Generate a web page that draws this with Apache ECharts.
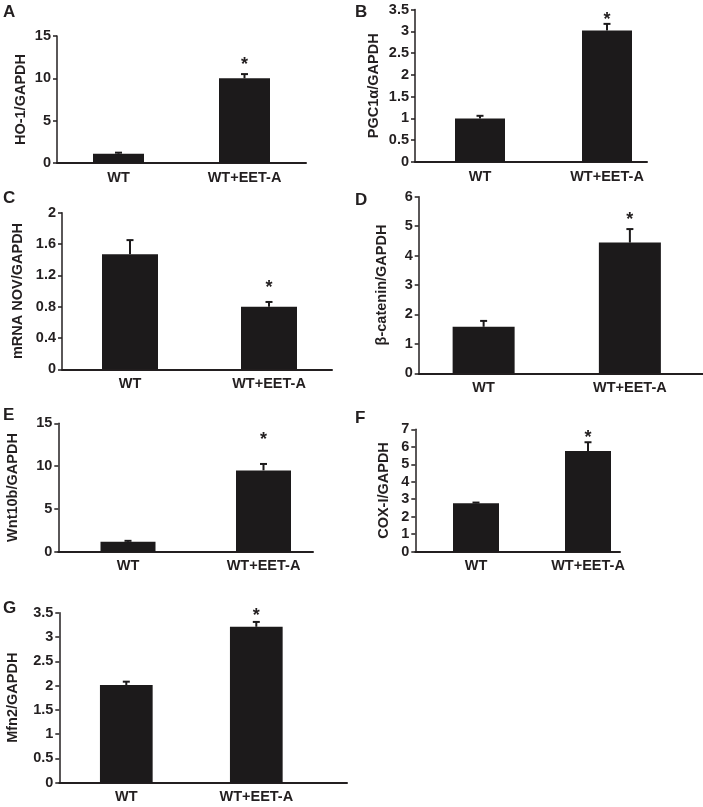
<!DOCTYPE html>
<html>
<head>
<meta charset="utf-8">
<script src="https://cdn.jsdelivr.net/npm/echarts@6/dist/echarts.min.js"></script>
<style>
html,body{margin:0;padding:0;background:#fff;}
#chart{width:703px;height:807px;}
</style>
</head>
<body>
<div id="chart"></div>
<script>
// ---------- data ----------
const categories = ['WT', 'WT+EET-A'];
const significant = [0, 1];

const hoMean = [1.1, 10.0];
const hoErr = [0.12, 0.5];
const hoTicks = [0, 5, 10, 15];

const pgcMean = [1.0, 3.02];
const pgcErr = [0.06, 0.15];
const pgcTicks = [0, 0.5, 1, 1.5, 2, 2.5, 3, 3.5];

const novMean = [1.47, 0.80];
const novErr = [0.18, 0.06];
const novTicks = [0, 0.4, 0.8, 1.2, 1.6, 2];

const catMean = [1.58, 4.44];
const catErr = [0.2, 0.46];
const catTicks = [0, 1, 2, 3, 4, 5, 6];

const wntMean = [1.15, 9.5];
const wntErr = [0.12, 0.75];
const wntTicks = [0, 5, 10, 15];

const coxMean = [2.77, 5.76];
const coxErr = [0.04, 0.5];
const coxTicks = [0, 1, 2, 3, 4, 5, 6, 7];

const mfnMean = [2.01, 3.21];
const mfnErr = [0.07, 0.1];
const mfnTicks = [0, 0.5, 1, 1.5, 2, 2.5, 3, 3.5];

// ---------- panels (data + layout) ----------
const panels = [
  {letter: 'A', name: 'HO-1/GAPDH', mean: hoMean, err: hoErr, ticks: hoTicks,
   L: {ax: 57, top: 36, zero: 163, xEnd: 306, c1: 118.5, c2: 244.5, barW: 51, nameGap: 29, star: 13, lx: 3, ly: 4}},
  {letter: 'B', name: 'PGC1α/GAPDH', mean: pgcMean, err: pgcErr, ticks: pgcTicks,
   L: {ax: 415, top: 9.5, zero: 162, xEnd: 647, c1: 480, c2: 607, barW: 50, nameGap: 34, star: 8, lx: 355, ly: 4}},
  {letter: 'C', name: 'mRNA NOV/GAPDH', mean: novMean, err: novErr, ticks: novTicks,
   L: {ax: 62, top: 212.7, zero: 369.3, xEnd: 332, c1: 130, c2: 269, barW: 56, nameGap: 37, star: 18, lx: 3, ly: 190}},
  {letter: 'D', name: 'β-catenin/GAPDH', mean: catMean, err: catErr, ticks: catTicks,
   L: {ax: 418.7, top: 196.7, zero: 373.3, xEnd: 703, c1: 492.5, c2: 656.5, barW: 62, nameGap: 29, star: 13, lx: 355, ly: 192}},
  {letter: 'E', name: 'Wnt10b/GAPDH', mean: wntMean, err: wntErr, ticks: wntTicks,
   L: {ax: 58.3, top: 423.3, zero: 551.7, xEnd: 313, c1: 128, c2: 263.5, barW: 55, nameGap: 38, star: 28, lx: 3, ly: 407}},
  {letter: 'F', name: 'COX-I/GAPDH', mean: coxMean, err: coxErr, ticks: coxTicks,
   L: {ax: 415.3, top: 429.3, zero: 551.7, xEnd: 620, c1: 476, c2: 588, barW: 46, nameGap: 24, star: 8, lx: 355, ly: 410}},
  {letter: 'G', name: 'Mfn2/GAPDH', mean: mfnMean, err: mfnErr, ticks: mfnTicks,
   L: {ax: 59.3, top: 612.7, zero: 782.7, xEnd: 347, c1: 126.3, c2: 256.3, barW: 52.7, nameGap: 39, star: 10, lx: 3, ly: 600}}
];

const FONT = '"Liberation Sans", Arial, sans-serif';
const TXT = '#231f20';
const BAR = '#1c1a1b';
const FS = 14.5;

const option = {
  backgroundColor: '#ffffff',
  animation: false,
  title: [], grid: [], xAxis: [], yAxis: [], series: []
};

panels.forEach((p, k) => {
  const L = p.L;
  const s = L.c2 - L.c1;
  const ymin = p.ticks[0], ymax = p.ticks[p.ticks.length - 1], step = p.ticks[1] - p.ticks[0];
  const frameIdx = 2 * k, dataIdx = 2 * k + 1;

  option.title.push({
    text: p.letter, left: L.lx, top: L.ly, padding: 0,
    textStyle: {fontFamily: FONT, fontSize: 17, fontWeight: 'bold', color: TXT}
  });

  // frame grid: y axis + x axis line
  option.grid.push({left: L.ax, top: L.top, width: L.xEnd - L.ax, height: L.zero - L.top, containLabel: false});
  // data grid: bars centred on categories
  option.grid.push({left: L.c1 - s / 2, top: L.top, width: 2 * s, height: L.zero - L.top, containLabel: false});

  option.xAxis.push({
    type: 'value', gridIndex: frameIdx, min: 0, max: 1,
    axisLine: {show: true, lineStyle: {color: TXT, width: 2}},
    axisTick: {show: false}, axisLabel: {show: false}, splitLine: {show: false}
  });
  option.xAxis.push({
    type: 'category', gridIndex: dataIdx, data: categories,
    axisLine: {show: false}, axisTick: {show: false},
    axisLabel: {margin: 7, fontFamily: FONT, fontSize: FS, fontWeight: 'bold', color: TXT}
  });

  option.yAxis.push({
    type: 'value', gridIndex: frameIdx, min: ymin, max: ymax, interval: step,
    name: p.name, nameLocation: 'middle', nameGap: L.nameGap, nameRotate: 90,
    nameTextStyle: {fontFamily: FONT, fontSize: FS, fontWeight: 'bold', color: TXT},
    axisLine: {show: true, lineStyle: {color: TXT, width: 1.5}},
    axisTick: {show: true, length: 4, lineStyle: {color: TXT, width: 1.5}},
    axisLabel: {margin: 6, fontFamily: FONT, fontSize: FS, fontWeight: 'bold', color: TXT,
      formatter: v => String(Math.round(v * 100) / 100)},
    splitLine: {show: false}
  });
  option.yAxis.push({
    type: 'value', gridIndex: dataIdx, min: ymin, max: ymax, interval: step, show: false, splitLine: {show: false}
  });

  option.series.push({
    type: 'bar', xAxisIndex: dataIdx, yAxisIndex: dataIdx,
    data: p.mean, barWidth: L.barW, itemStyle: {color: BAR}, silent: true
  });

  const starOff = L.star;
  option.series.push({
    type: 'custom', xAxisIndex: dataIdx, yAxisIndex: dataIdx, silent: true,
    data: p.mean.map((m, i) => [i, m, p.err[i], significant[i]]),
    encode: {x: 0, y: 1},
    renderItem: (params, api) => {
      const i = api.value(0), v = api.value(1), e = api.value(2), sig = api.value(3);
      const p0 = api.coord([i, v]);
      const p1 = api.coord([i, v + e]);
      const st = {stroke: BAR, lineWidth: 2};
      const children = [
        {type: 'line', shape: {x1: p0[0], y1: p0[1], x2: p1[0], y2: p1[1]}, style: st},
        {type: 'line', shape: {x1: p1[0] - 3.5, y1: p1[1], x2: p1[0] + 3.5, y2: p1[1]}, style: st}
      ];
      if (sig) {
        children.push({
          type: 'text',
          style: {text: '*', x: p1[0], y: p1[1] - starOff + 4, align: 'center', verticalAlign: 'middle',
            fontFamily: FONT, fontSize: 18, fontWeight: 'bold', fill: TXT}
        });
      }
      return {type: 'group', children: children};
    }
  });
});

const chart = echarts.init(document.getElementById('chart'), null, {renderer: 'canvas'});
chart.setOption(option);
</script>
</body>
</html>
